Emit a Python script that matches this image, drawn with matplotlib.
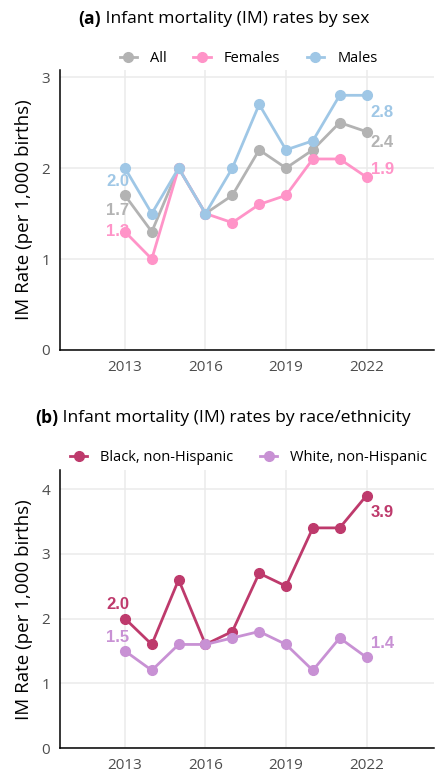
import matplotlib
matplotlib.use("Agg")
import matplotlib.pyplot as plt
from matplotlib.lines import Line2D

plt.rcParams['font.family'] = ['Open Sans', 'DejaVu Sans']

years = [2013, 2014, 2015, 2016, 2017, 2018, 2019, 2020, 2021, 2022]

# Panel (a): by sex
sex_groups = ["All", "Females", "Males"]
im_all = [1.7, 1.3, 2.0, 1.5, 1.7, 2.2, 2.0, 2.2, 2.5, 2.4]
im_females = [1.3, 1.0, 2.0, 1.5, 1.4, 1.6, 1.7, 2.1, 2.1, 1.9]
im_males = [2.0, 1.5, 2.0, 1.5, 2.0, 2.7, 2.2, 2.3, 2.8, 2.8]

# Panel (b): by race/ethnicity
race_groups = ["Black, non-Hispanic", "White, non-Hispanic"]
im_black = [2.0, 1.6, 2.6, 1.6, 1.8, 2.7, 2.5, 3.4, 3.4, 3.9]
im_white = [1.5, 1.2, 1.6, 1.6, 1.7, 1.8, 1.6, 1.2, 1.7, 1.4]

xticks = [2013, 2016, 2019, 2022]

C_ALL = "#b3b3b3"
C_FEM = "#ff94c8"
C_MALE = "#9fc7e6"
C_BLACK = "#be3a6c"
C_WHITE = "#c891d4"

fig = plt.figure(figsize=(4.36, 7.76), dpi=100)
ax_a = fig.add_axes([0.1376, 0.549, 0.857, 0.361])
ax_b = fig.add_axes([0.1376, 0.036, 0.857, 0.358])


def style_axes(ax, ymax, yticks):
    ax.set_xlim(2010.58, 2024.5)
    ax.set_ylim(0, ymax)
    ax.set_xticks(xticks)
    ax.set_yticks(yticks)
    ax.grid(True, color="#ebebeb", linewidth=1.1)
    ax.set_axisbelow(True)
    for s in ("top", "right"):
        ax.spines[s].set_visible(False)
    for s in ("left", "bottom"):
        ax.spines[s].set_color("black")
        ax.spines[s].set_linewidth(1.1)
    ax.tick_params(length=0, pad=7, labelsize=11, labelcolor="#4d4d4d")
    ax.set_ylabel("IM Rate (per 1,000 births)", fontsize=13.5, color="black", labelpad=6)


def draw_series(ax, values, color, label):
    ax.plot(years, values, color=color, lw=2.0, marker="o", ms=7, label=label, zorder=3)


def value_label(ax, x, y, color, dx, dy, ha):
    ax.annotate(f"{y:.1f}", xy=(x, y), xytext=(dx, dy), textcoords="offset points",
                ha=ha, va="center", fontsize=12, fontweight="bold", color=color,
                family=["Liberation Sans", "DejaVu Sans"], zorder=4)


def panel_title(x_px, y_px, tag, text):
    t1 = fig.text(x_px / 436, 1 - y_px / 776, tag, fontsize=12.6, fontweight="bold",
                  ha="left", va="center")
    ax_a.annotate(" " + text, xy=(1, 0.5), xycoords=t1, ha="left", va="center",
                  fontsize=12.6, annotation_clip=False)


# Panel (a)
style_axes(ax_a, 3.08, [0, 1, 2, 3])
draw_series(ax_a, im_all, C_ALL, sex_groups[0])
draw_series(ax_a, im_females, C_FEM, sex_groups[1])
draw_series(ax_a, im_males, C_MALE, sex_groups[2])

value_label(ax_a, years[0], im_males[0], C_MALE, 3, -10, "right")
value_label(ax_a, years[0], im_all[0], C_ALL, 3, -11, "right")
value_label(ax_a, years[0], im_females[0], C_FEM, 3, 0, "right")
value_label(ax_a, years[-1], im_males[-1], C_MALE, 3, -12.5, "left")
value_label(ax_a, years[-1], im_all[-1], C_ALL, 3, -7.5, "left")
value_label(ax_a, years[-1], im_females[-1], C_FEM, 3, 5.5, "left")

handles_a = [Line2D([], [], color=c, lw=2.0, marker="o", ms=7) for c in (C_ALL, C_FEM, C_MALE)]
fig.legend(handles_a, sex_groups, loc="center", bbox_to_anchor=(0.57, 0.925), ncol=3,
           frameon=False, fontsize=10.5, handlelength=1.2, handletextpad=0.9,
           columnspacing=1.8)

# Panel (b)
style_axes(ax_b, 4.29, [0, 1, 2, 3, 4])
draw_series(ax_b, im_black, C_BLACK, race_groups[0])
draw_series(ax_b, im_white, C_WHITE, race_groups[1])

value_label(ax_b, years[0], im_black[0], C_BLACK, 3, 10, "right")
value_label(ax_b, years[0], im_white[0], C_WHITE, 3, 10, "right")
value_label(ax_b, years[-1], im_black[-1], C_BLACK, 3, -12.5, "left")
value_label(ax_b, years[-1], im_white[-1], C_WHITE, 3, 10, "left")

handles_b = [Line2D([], [], color=c, lw=2.0, marker="o", ms=7) for c in (C_BLACK, C_WHITE)]
fig.legend(handles_b, race_groups, loc="center", bbox_to_anchor=(0.57, 0.41), ncol=2,
           frameon=False, fontsize=10.5, handlelength=1.2, handletextpad=0.9,
           columnspacing=1.8)

panel_title(78, 19, "(a)", "Infant mortality (IM) rates by sex")
panel_title(35, 418, "(b)", "Infant mortality (IM) rates by race/ethnicity")

fig.savefig("out.png", dpi=100, facecolor="white")
